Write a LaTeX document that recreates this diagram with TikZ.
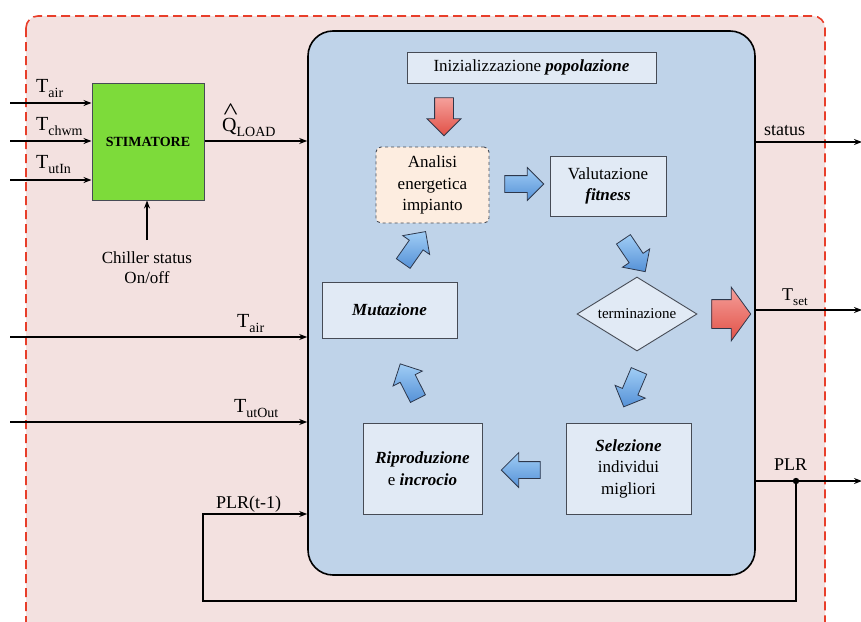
\documentclass[tikz,border=0pt]{standalone}
\usepackage{fontspec}
\setmainfont{Liberation Serif}
\usetikzlibrary{shapes.geometric,shapes.arrows,arrows.meta}

\definecolor{pinkbg}{RGB}{243,225,224}
\definecolor{reddash}{RGB}{232,62,42}
\definecolor{bluebg}{RGB}{191,211,233}
\definecolor{boxfill}{RGB}{225,234,245}
\definecolor{peach}{RGB}{253,237,224}
\definecolor{stimgreen}{RGB}{125,219,58}
\definecolor{arrline}{RGB}{45,55,75}
\definecolor{blueL}{RGB}{160,205,245}
\definecolor{blueD}{RGB}{85,145,215}
\definecolor{redL}{RGB}{245,160,155}
\definecolor{redD}{RGB}{225,80,70}
\definecolor{boxline}{RGB}{70,75,85}

% signal name with a lowered subscript
\newcommand{\sig}[2]{#1\raisebox{-5pt}{\fontsize{14}{14}\selectfont #2}}
\newcommand{\txt}{\fontsize{17}{21.5}\selectfont}
% invisible strut that sets the shaft width of a block arrow
\newcommand{\shaft}[1]{\rule{0pt}{#1}}

\begin{document}
\begin{tikzpicture}[x=1pt,y=-1pt,
  line cap=butt,
  wire/.style={line width=1.8pt,draw=black},
  arr/.style={wire,-{Stealth[length=8pt,width=6pt]}},
  gabox/.style={rectangle,draw=boxline,line width=0.9pt,fill=boxfill,
    inner sep=2pt,align=center,font=\txt},
  lbl/.style={inner sep=0pt,font=\fontsize{20}{24}\selectfont},
  lbls/.style={inner sep=0pt,font=\fontsize{18}{22}\selectfont},
  barrow/.style={single arrow,draw=arrline,line width=0.8pt,
    top color=blueL,bottom color=blueD,inner sep=0pt,
    minimum height=39pt,single arrow head extend=8pt},
  rarrow/.style={single arrow,draw=arrline,line width=0.8pt,
    top color=redL,bottom color=redD,inner sep=0pt},
]
\useasboundingbox (0,0) rectangle (861,621);
\clip (0,0) rectangle (861,621);

% outer frame
\draw[reddash,fill=pinkbg,line width=1.6pt,dash pattern=on 9pt off 5pt,
  rounded corners=12pt] (26,16) rectangle (825,660);

% optimiser container
\node[rectangle,rounded corners=25pt,draw=black,line width=1.6pt,fill=bluebg,
  minimum width=447pt,minimum height=544pt,inner sep=0pt] (ga) at (531.5,303) {};

% estimator block
\node[rectangle,draw=boxline,line width=1pt,fill=stimgreen,minimum width=112pt,
  minimum height=117pt,inner sep=0pt,font=\fontsize{14}{16}\selectfont\bfseries]
  (stim) at (148,141.5) {STIMATORE};

% algorithm blocks
\node[gabox,minimum width=249pt,minimum height=31pt,inner sep=0pt] (init) at (531.5,67.5)
  {Inizializzazione \textbf{\textit{popolazione}}};
\node[gabox,fill=peach,dashed,rounded corners=5pt,minimum width=113pt,
  minimum height=76pt] (anal) at (432.5,185) {Analisi\\energetica\\impianto};
\node[gabox,minimum width=116pt,minimum height=60pt] (valu) at (608,186)
  {Valutazione\\\textbf{\textit{fitness}}};
\node[diamond,draw=boxline,line width=0.9pt,fill=boxfill,minimum width=120pt,
  minimum height=74pt,aspect=1.62,inner sep=0pt,font=\fontsize{15}{18}\selectfont]
  (term) at (637,314) {terminazione};
\node[gabox,minimum width=135pt,minimum height=56pt] (mut) at (389.5,310)
  {\textbf{\textit{Mutazione}}};
\node[gabox,minimum width=125pt,minimum height=91pt] (sel) at (628.5,468.5)
  {\textbf{\textit{Selezione}}\\individui\\migliori};
\node[gabox,minimum width=119pt,minimum height=91pt] (rip) at (422.5,468.5)
  {\textbf{\textit{Riproduzione}}\\e \textbf{\textit{incrocio}}};

% block arrows of the loop
\node[rarrow,rotate=-90,minimum height=38pt,single arrow head extend=7.5pt]
  (aInit) at (444,112) {\shaft{18pt}};
\node[barrow] (aA) at (520,184) {\shaft{16pt}};
\node[barrow,rotate=-56] (aB) at (632,252) {\shaft{16pt}};
\node[barrow,rotate=-113] (aC) at (633,385) {\shaft{16pt}};
\node[barrow,rotate=180,single arrow head extend=9pt] (aD) at (525,470) {\shaft{16pt}};
\node[barrow,rotate=117] (aE) at (411,385) {\shaft{16pt}};
\node[barrow,rotate=55] (aF) at (412,251) {\shaft{16pt}};
\node[rarrow,minimum height=39pt,single arrow head extend=12.5pt,
  single arrow tip angle=108] (aOut) at (726,314) {\shaft{28pt}};

% estimator inputs
\coordinate (inA) at (10,103);
\coordinate (inB) at (10,141);
\coordinate (inC) at (10,180);
\coordinate (chil) at (147,240);
\draw[arr] (inA) -- (inA -| stim.west);
\draw[arr] (inB) -- (inB -| stim.west);
\draw[arr] (inC) -- (inC -| stim.west);
\draw[arr] (chil) -- (chil |- stim.south);
\draw[arr] (stim.east |- inB) -- (inB -| ga.west);

\node[lbl,anchor=base west] (lTa) at (36,92) {\sig{T}{air}};
\node[lbl,anchor=base west] (lTc) at (36,130) {\sig{T}{chwm}};
\node[lbl,anchor=base west] (lTi) at (36,168) {\sig{T}{utIn}};
\node[lbl,anchor=base west] (lQ) at (222,131)
  {\rlap{\hspace{1.5pt}\raisebox{12pt}{\scalebox{1.5}[1.2]{\textasciicircum}}}Q\raisebox{-5pt}{\fontsize{14}{14}\selectfont LOAD}};
\node[inner sep=0pt,align=center,font=\fontsize{17}{20}\selectfont,anchor=base]
  (lCh) at (147,283) {Chiller status\\On/off};

% direct inputs of the optimiser
\coordinate (inD) at (10,337);
\coordinate (inE) at (10,422);
\draw[arr] (inD) -- (inD -| ga.west);
\draw[arr] (inE) -- (inE -| ga.west);
\node[lbl,anchor=base west] (lTa2) at (237,327) {\sig{T}{air}};
\node[lbl,anchor=base west] (lTo) at (234,412) {\sig{T}{utOut}};

% outputs
\coordinate (oS) at (862,142);
\coordinate (oT) at (862,310);
\coordinate (oP) at (862,481);
\coordinate (dot) at (796,481);
\draw[arr] (oS -| ga.east) -- (oS);
\draw[arr] (oT -| ga.east) -- (oT);
\draw[arr] (oP -| ga.east) -- (oP);
\fill (dot) circle (3.2pt);
\node[lbls,anchor=base west] (lS) at (764,135) {status};
\node[lbl,anchor=base west,font=\fontsize{18}{22}\selectfont] (lTs) at (782,300)
  {T\raisebox{-5pt}{\fontsize{13}{13}\selectfont set}};
\node[lbls,anchor=base west] (lP) at (774,470) {PLR};

% feedback of the part load ratio
\coordinate (fb) at (203,514);
\draw[arr] (dot) -- (796,601) -- (203,601) -- (fb) -- (fb -| ga.west);
\node[lbls,anchor=base west] (lPt) at (216,508) {PLR(t-1)};
\end{tikzpicture}
\end{document}
